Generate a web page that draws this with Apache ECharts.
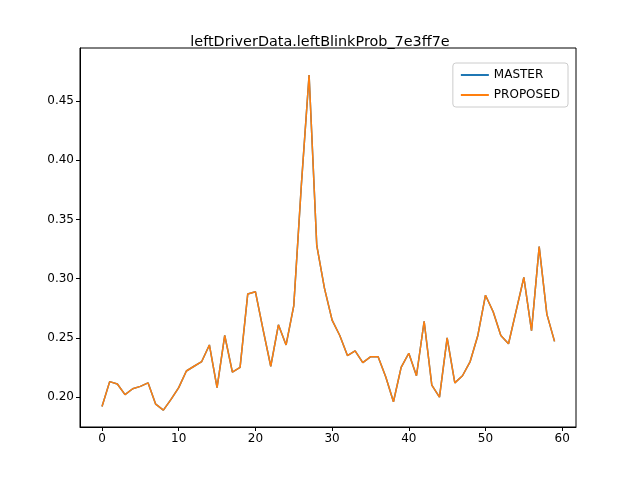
<!DOCTYPE html>
<html><head><meta charset="utf-8">
<script src="https://cdn.jsdelivr.net/npm/echarts@6/dist/echarts.min.js"></script>
<style>body{margin:0}#c{width:640px;height:480px}</style></head>
<body><div id="c"></div>
<script>
const xs = Array.from({length:60},(_,i)=>i);
const master = [0.192,0.213,0.211,0.202,0.207,0.209,0.212,0.194,0.189,0.198,0.208,0.222,0.226,0.230,0.244,0.208,0.252,0.221,0.225,0.287,0.289,0.257,0.226,0.261,0.244,0.277,0.380,0.472,0.328,0.292,0.265,0.252,0.235,0.239,0.229,0.234,0.234,0.217,0.196,0.225,0.237,0.218,0.264,0.210,0.200,0.250,0.212,0.218,0.230,0.252,0.286,0.272,0.252,0.245,0.273,0.301,0.256,0.327,0.270,0.247];
const proposed = master.slice();
const xTicks = [0,10,20,30,40,50,60];
const yTicks = [0.20,0.25,0.30,0.35,0.40,0.45];
const font = 'DejaVu Sans';
const chart = echarts.init(document.getElementById('c'));
chart.setOption({
  animation:false,
  title:{text:'leftDriverData.leftBlinkProb_7e3ff7e',left:'center',top:30,textStyle:{fontFamily:font,fontSize:14.4,fontWeight:'normal',color:'#000'}},
  legend:{right:72,top:63,orient:'vertical',itemWidth:28,itemHeight:2,itemGap:8,padding:[6,8,6,8],
    borderColor:'#ccc',borderWidth:1,borderRadius:3,icon:'rect',
    textStyle:{fontFamily:font,fontSize:12,color:'#000'},data:['MASTER','PROPOSED']},
  grid:{left:80,right:64,top:48,bottom:53,show:true,borderColor:'#000',borderWidth:1,backgroundColor:'transparent'},
  xAxis:{type:'value',min:-2.87,max:61.8,
    axisLine:{onZero:false,lineStyle:{color:'#000'}},splitLine:{show:false},
    axisTick:{customValues:xTicks,length:4,inside:false,lineStyle:{color:'#000'}},
    axisLabel:{customValues:xTicks,fontFamily:font,fontSize:12,color:'#000',margin:6}},
  yAxis:{type:'value',min:0.1747,max:0.4948,
    axisLine:{show:true,onZero:false,lineStyle:{color:'#000'}},splitLine:{show:false},
    axisTick:{show:true,customValues:yTicks,length:4,lineStyle:{color:'#000'}},
    axisLabel:{customValues:yTicks,formatter:v=>v.toFixed(2),fontFamily:font,fontSize:12,color:'#000',margin:6}},
  series:[
    {name:'MASTER',type:'line',data:xs.map((x,i)=>[x,master[i]]),showSymbol:false,lineStyle:{color:'#1f77b4',width:1.5},itemStyle:{color:'#1f77b4'}},
    {name:'PROPOSED',type:'line',data:xs.map((x,i)=>[x,proposed[i]]),showSymbol:false,lineStyle:{color:'#ff7f0e',width:1.5},itemStyle:{color:'#ff7f0e'}}
  ]
});
</script></body></html>
